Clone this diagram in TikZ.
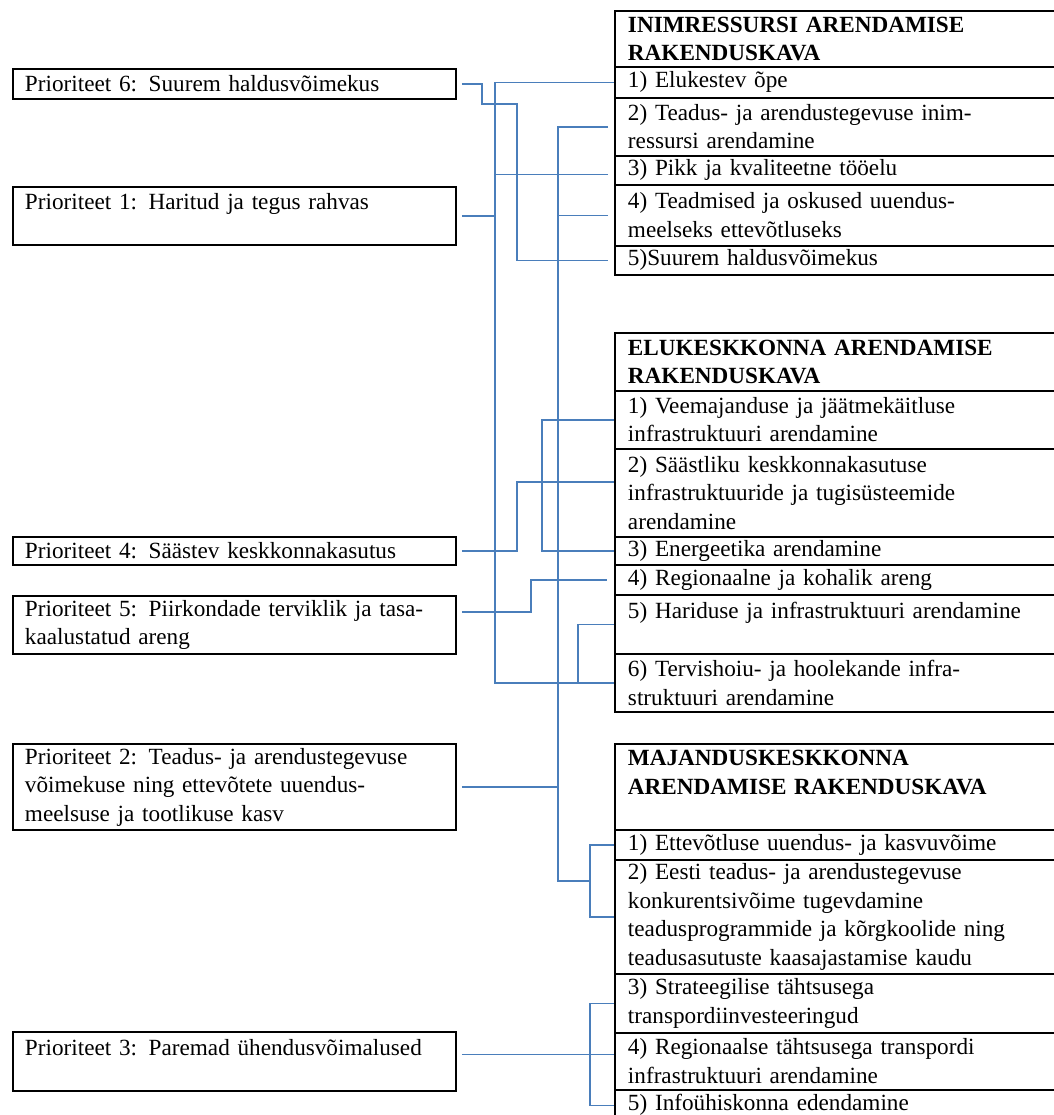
\documentclass[tikz,border=0pt]{standalone}
\usepackage{fontspec}
\setmainfont{Liberation Serif}
\usepackage{xcolor}
\usepackage{tikz}
\usetikzlibrary{calc}
\definecolor{linkblue}{HTML}{4A7EBB}
\newcommand{\prfont}{\fontsize{16.5}{20.3}\selectfont}

\begin{document}
\begin{tikzpicture}[x=0.25mm, y=-0.25mm,
  prio/.style={draw=black, line width=1.4pt, anchor=north west,
    text width=104.75mm, inner xsep=3mm, inner ysep=0.5mm, align=left, font=\prfont},
  row/.style={draw=black, line width=1.1pt, anchor=north west,
    text width=103.9mm, inner xsep=3.3mm, inner ysep=0.5mm, align=left, font=\prfont},
  head/.style={row, font=\prfont\bfseries},
  link/.style={draw=linkblue, line width=1.1pt},
  from/.style={shorten <=1.25mm},
  short/.style={shorten <=1.5mm}
]
  \useasboundingbox (0,0) rectangle (1054,1115);

  % action plans
  \node[head, minimum height=14mm]    (ihead) at (614,10)  {INIMRESSURSI ARENDAMISE\\RAKENDUSKAVA};
  \node[row, minimum height=7.75mm]   (i1)    at (614,66)  {1) Elukestev õpe};
  \node[row, minimum height=14.5mm]   (i2)    at (614,97)  {2) Teadus- ja arendustegevuse inim-\\ressursi arendamine};
  \node[row, minimum height=7.25mm]   (i3)    at (614,155) {3) Pikk ja kvaliteetne tööelu};
  \node[row, minimum height=15.25mm]  (i4)    at (614,184) {4) Teadmised ja oskused uuendus-\\meelseks ettevõtluseks};
  \node[row, minimum height=7.25mm]   (i5)    at (614,245) {5)Suurem haldusvõimekus};

  \node[head, minimum height=14.5mm]  (ehead) at (614,332) {ELUKESKKONNA ARENDAMISE\\RAKENDUSKAVA};
  \node[row, minimum height=14.5mm]   (e1)    at (614,390) {1) Veemajanduse ja jäätmekäitluse\\infrastruktuuri arendamine};
  \node[row, minimum height=22mm]     (e2)    at (614,448) {2) Säästliku keskkonnakasutuse\\infrastruktuuride ja tugisüsteemide\\arendamine};
  \node[row, minimum height=7mm]      (e3)    at (614,536) {3) Energeetika arendamine};
  \node[row, minimum height=7.5mm]    (e4)    at (614,564) {4) Regionaalne ja kohalik areng};
  \node[row, minimum height=14.75mm]  (e5)    at (614,594) {5) Hariduse ja infrastruktuuri arendamine\\\mbox{}};
  \node[row, minimum height=14.5mm]   (e6)    at (614,653) {6) Tervishoiu- ja hoolekande infra-\\struktuuri arendamine};

  \node[head, minimum height=21.5mm]  (mhead) at (614,743) {MAJANDUSKESKKONNA\\ARENDAMISE RAKENDUSKAVA\\\mbox{}};
  \node[row, minimum height=7.5mm]    (m1)    at (614,829) {1) Ettevõtluse uuendus- ja kasvuvõime};
  \node[row, minimum height=28.5mm]   (m2)    at (614,859) {2) Eesti teadus- ja arendustegevuse\\konkurentsivõime tugevdamine\\teadusprogrammide ja kõrgkoolide ning\\teadusasutuste kaasajastamise kaudu};
  \node[row, minimum height=14.75mm]  (m3)    at (614,973) {3) Strateegilise tähtsusega\\transpordiinvesteeringud};
  \node[row, minimum height=14.25mm]  (m4)    at (614,1032) {4) Regionaalse tähtsusega transpordi\\infrastruktuuri arendamine};
  \node[row, minimum height=7.75mm]   (m5)    at (614,1089) {5) Infoühiskonna edendamine};

  % priorities
  \node[prio, minimum height=7.5mm]   (p6) at (12,68)   {Prioriteet 6: Suurem haldusvõimekus};
  \node[prio, minimum height=14.5mm]  (p1) at (12,186)  {Prioriteet 1: Haritud ja tegus rahvas\\\mbox{}};
  \node[prio, minimum height=7mm]     (p4) at (12,536)  {Prioriteet 4: Säästev keskkonnakasutus};
  \node[prio, minimum height=14.5mm]  (p5) at (12,595)  {Prioriteet 5: Piirkondade terviklik ja tasa-\\kaalustatud areng};
  \node[prio, minimum height=21.5mm]  (p2) at (12,743)  {Prioriteet 2: Teadus- ja arendustegevuse\\võimekuse ning ettevõtete uuendus-\\meelsuse ja tootlikuse kasv};
  \node[prio, minimum height=14.75mm] (p3) at (12,1031) {Prioriteet 3: Paremad ühendusvõimalused\\\mbox{}};

  % vertical runs
  \coordinate (busa) at (482,0);
  \coordinate (busb) at (495,0);
  \coordinate (busc) at (517,0);
  \coordinate (busd) at (531,0);
  \coordinate (buse) at (542,0);
  \coordinate (busf) at (558,0);
  \coordinate (busg) at (578,0);
  \coordinate (bush) at (590,0);
  \coordinate (jog)  at (0,104);
  \coordinate (mjoin) at ($(m1.west -| bush)!0.5!(m2.west -| bush)$);
  \coordinate (e2in) at ([yshift=2.75mm]e2.west);
  \coordinate (i3in) at ([yshift=-1.1mm]i3.west);
  \coordinate (p5out) at ([yshift=3.25mm]p5.east);
  \coordinate (p3out) at ([yshift=1.75mm]p3.east);

  % prioriteet 6
  \draw[link, from, shorten >=1.5mm] (p6.east) -| (busa |- jog) -| (busc |- i5.west) -- (i5.west);

  % prioriteet 1
  \draw[link] (i1.west) -| (busb |- e6.west) -- (e6.west);
  \draw[link, from] (p1.east) -- (p1.east -| busb);
  \draw[link, short] (i3in) -- (i3in -| busb);
  \draw[link] (e5.west) -| (busg |- e6.west);

  % prioriteet 2
  \draw[link, short] (i2.west) -| (busf |- mjoin) -- (mjoin);
  \draw[link, short] (i4.west) -- (i4.west -| busf);
  \draw[link, from] (p2.east) -- (p2.east -| busf);
  \draw[link] (m1.west) -| (bush |- m2.west) -- (m2.west);

  % prioriteet 4
  \draw[link, from] (p4.east) -| (busc |- e2in) -- (e2in);
  \draw[link] (e1.west) -| (buse |- e3.west) -- (e3.west);

  % prioriteet 5
  \draw[link, from, shorten >=1.75mm] (p5out) -| (busd |- e4.west) -- (e4.west);

  % prioriteet 3
  \draw[link, from] (p3out) -- (p3out -| m4.west);
  \draw[link] (m3.west) -| (bush |- m5.west) -- (m5.west);
\end{tikzpicture}
\end{document}
